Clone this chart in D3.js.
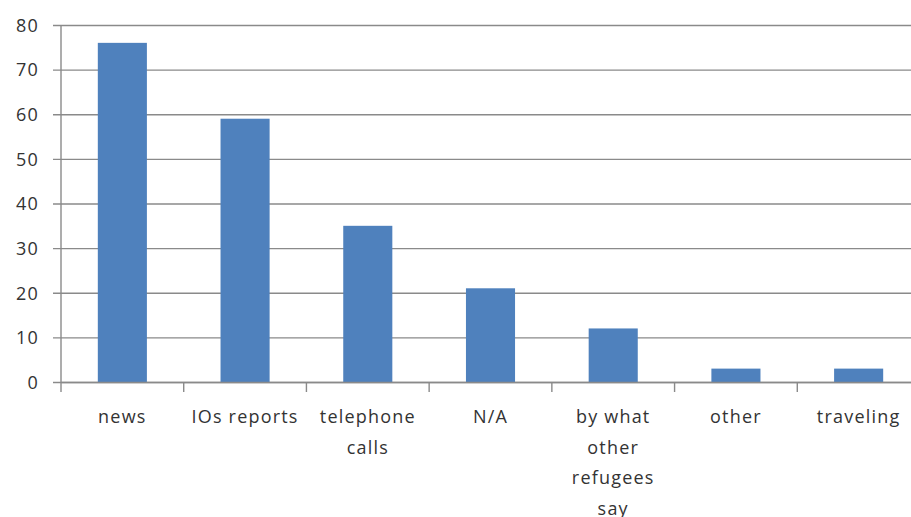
<!DOCTYPE html>
<html>
<head>
<meta charset="utf-8">
<script src="https://cdn.jsdelivr.net/npm/d3@7"></script>
<style>
  html, body { margin: 0; padding: 0; background: #fff; }
  svg { display: block; }
  text { font-family: "Open Sans", "DejaVu Sans", sans-serif; fill: #333; }
</style>
</head>
<body>
<svg id="chart" width="911" height="517"></svg>
<script>
// Source of information about the home country
const categories = ["news", "IOs reports", "telephone\ncalls", "N/A", "by what\nother\nrefugees\nsay", "other", "traveling"];
const counts = [76, 59, 35, 21, 12, 3, 3];
const yTicks = [0, 10, 20, 30, 40, 50, 60, 70, 80];

const svg = d3.select("#chart");
const plotLeft = 61, plotRight = 920, plotTop = 25, plotBottom = 382;
const gridColor = "#8a8a8a";

const x = d3.scaleBand().domain(categories).range([plotLeft, plotRight]).padding(0);
const y = d3.scaleLinear().domain([0, 80]).range([plotBottom, plotTop]);

// horizontal gridlines with left ticks
const yAxis = d3.axisLeft(y).tickValues(yTicks).tickSize(-(plotRight - plotLeft)).tickSizeOuter(0);
const gy = svg.append("g").attr("transform", `translate(${plotLeft},0)`).call(yAxis);
gy.select(".domain").remove();
gy.selectAll(".tick line")
  .attr("x1", -8)
  .attr("x2", plotRight - plotLeft)
  .attr("stroke", gridColor)
  .attr("stroke-width", 1.4);
gy.selectAll(".tick text")
  .attr("x", -22)
  .attr("dy", "0.35em")
  .attr("font-family", null)
  .attr("font-size", null)
  .style("font-size", "18px")
  .style("letter-spacing", "1.2px")
  .attr("fill", "#333");

// vertical axis line
svg.append("line")
  .attr("x1", plotLeft).attr("x2", plotLeft)
  .attr("y1", y(80)).attr("y2", plotBottom + 10)
  .attr("stroke", gridColor).attr("stroke-width", 1.4);

// bars
const barFrac = 0.4;
svg.append("g").selectAll("rect")
  .data(categories)
  .join("rect")
  .attr("x", d => x(d) + x.bandwidth() * (1 - barFrac) / 2)
  .attr("width", x.bandwidth() * barFrac)
  .attr("y", (d, i) => y(counts[i]))
  .attr("height", (d, i) => y(0) - y(counts[i]))
  .attr("fill", "#4f81bd");

// category axis: boundary ticks and wrapped labels
const xAxis = d3.axisBottom(x).tickSize(0).tickSizeOuter(0).tickFormat("");
const gx = svg.append("g").attr("transform", `translate(0,${plotBottom})`).call(xAxis);
gx.attr("font-family", null).attr("font-size", null);
gx.select(".domain").attr("stroke", gridColor).attr("stroke-width", 1.4);
gx.selectAll(".tick").remove();

gx.selectAll("line.boundary")
  .data(categories.slice(1))
  .join("line")
  .attr("class", "boundary")
  .attr("x1", d => x(d)).attr("x2", d => x(d))
  .attr("y1", 0).attr("y2", 10)
  .attr("stroke", gridColor).attr("stroke-width", 1.4);

const labels = gx.selectAll("text.cat")
  .data(categories)
  .join("text")
  .attr("class", "cat")
  .attr("text-anchor", "middle")
  .attr("x", d => x(d) + x.bandwidth() / 2)
  .attr("y", 41)
  .style("font-size", "18px")
  .style("letter-spacing", "1.2px");

labels.each(function(d) {
  const t = d3.select(this);
  const cx = x(d) + x.bandwidth() / 2;
  d.split("\n").forEach((line, i) => {
    t.append("tspan").attr("x", cx).attr("dy", i === 0 ? 0 : 30.7).text(line);
  });
});
</script>
</body>
</html>
